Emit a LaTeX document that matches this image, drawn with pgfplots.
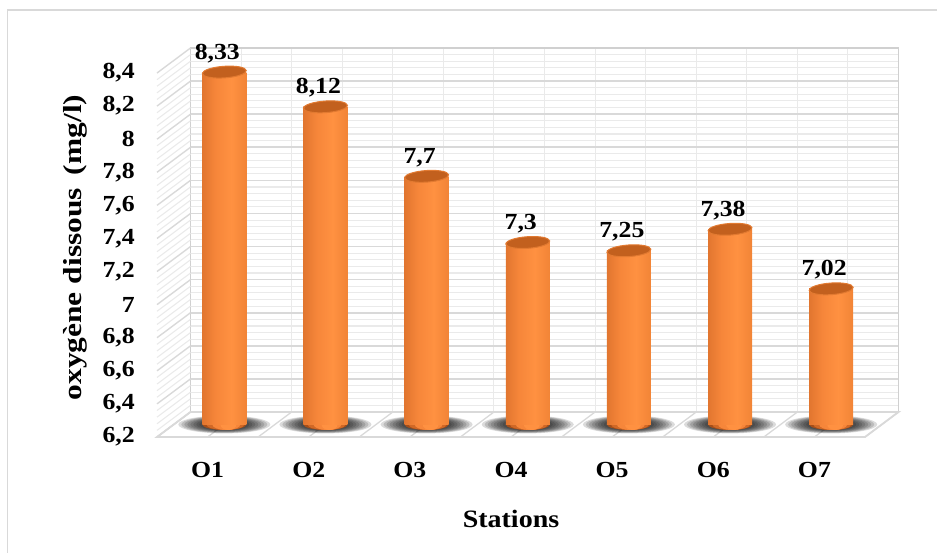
\documentclass[border=0pt]{standalone}
\usepackage{fontspec}
\setmainfont{Liberation Serif}[FakeStretch=1.12]
\newfontfamily\ylabfont{Liberation Serif}[FakeStretch=1.21]
\usepackage{pgfplots}
\usepackage{pgfplotstable}
\pgfplotsset{compat=1.18}

\definecolor{gridmajor}{HTML}{D9D9D9}
\definecolor{gridminor}{HTML}{EAEAEA}
\definecolor{walledge}{HTML}{D0D0D0}
\definecolor{framegray}{HTML}{D9D9D9}
\definecolor{topfill}{HTML}{C2601E}
\definecolor{toprim}{HTML}{E27A31}
\definecolor{cylA}{HTML}{A54E19}
\definecolor{cylB}{HTML}{D06826}
\definecolor{cylC}{HTML}{F6863A}
\definecolor{cylD}{HTML}{FF9141}
\definecolor{cylE}{HTML}{EC7F32}
\definecolor{cylF}{HTML}{B95C1D}

% cylinder body: dark edges, bright band a little right of centre
\pgfdeclarehorizontalshading{cylbody}{100bp}{%
  color(0bp)=(cylA); color(12bp)=(cylB); color(40bp)=(cylC);
  color(58bp)=(cylD); color(82bp)=(cylE); color(100bp)=(cylF)}

% tilted top of a cylinder
\pgfdeclareplotmark{cyltop}{%
  \pgfpathellipse{\pgfpointorigin}{\pgfpointpolar{4}{22bp}}{\pgfpointpolar{94}{5.8bp}}%
  \pgfsetfillcolor{topfill}\pgfsetstrokecolor{toprim}\pgfsetlinewidth{1bp}%
  \pgfusepath{fill,stroke}}
% flat ellipse, half width = mark size, fixed half height
\pgfdeclareplotmark{footell}{%
  \pgfpathellipse{\pgfpointorigin}{\pgfpoint{\pgfplotmarksize}{0pt}}{\pgfpoint{0pt}{5.5bp}}%
  \pgfusepath{fill}}
% flat ellipse for the floor shadow
\pgfdeclareplotmark{shadowell}{%
  \pgfpathellipse{\pgfpointorigin}{\pgfpoint{\pgfplotmarksize}{0pt}}{\pgfpoint{0pt}{0.15\pgfplotmarksize+2bp}}%
  \pgfusepath{fill}}

\pgfplotstableread{
st v
1 8.33
2 8.12
3 7.7
4 7.3
5 7.25
6 7.38
7 7.02
}\oxtable

\newcommand{\labelfont}{\fontsize{23bp}{26bp}\selectfont\bfseries}

\begin{document}
\begin{tikzpicture}
\path[use as bounding box] (0,0) rectangle (937bp,553bp);
\draw[framegray, line width=1.5bp] (7.5bp,-10bp) rectangle (950bp,543bp);

% back wall
\begin{axis}[at={(190.5bp,141bp)}, anchor=south west,
  scale only axis, width=708bp, height=364bp,
  xmin=0, xmax=7, ymin=6.2, ymax=8.4,
  xtick={0,0.5,...,7},
  ytick={6.2,6.4,6.6,6.8,7,7.2,7.4,7.6,7.8,8,8.2,8.4},
  minor y tick num=4,
  xticklabels={}, yticklabels={},
  major tick length=0pt, minor tick length=0pt,
  grid=both,
  major grid style={gridmajor, line width=1.6bp},
  minor grid style={gridminor, line width=1.1bp},
  x grid style={gridminor, line width=1.1bp},
  axis line style={walledge, line width=1.6bp}]
\end{axis}

% left side wall
\begin{axis}[at={(157bp,116bp)}, anchor=origin, disabledatascaling,
  x={(33.5bp,25bp)}, y={(0bp,165.45bp)},
  xmin=0, xmax=1, ymin=0, ymax=2.2,
  xtick=\empty,
  ytick={0,0.2,0.4,0.6,0.8,1,1.2,1.4,1.6,1.8,2,2.2},
  minor y tick num=4, yticklabels={},
  major tick length=0pt, minor tick length=0pt,
  ymajorgrids, yminorgrids,
  major grid style={gridmajor, line width=1.4bp},
  minor grid style={gridminor, line width=1.1bp},
  axis line style={draw=none}]
\end{axis}

% floor
\begin{axis}[at={(157bp,116bp)}, anchor=origin, disabledatascaling,
  x={(101.143bp,0bp)}, y={(33.5bp,25bp)},
  xmin=0, xmax=7, ymin=0, ymax=1,
  xtick={0,0.5,...,7}, ytick=\empty, xticklabels={},
  major tick length=0pt,
  xmajorgrids,
  major grid style={gridmajor, line width=1.3bp},
  axis line style={gridmajor, line width=1.8bp}]
\end{axis}

% cylinders, standing at mid depth
\begin{axis}[at={(173.75bp,128.5bp)}, anchor=south west,
  scale only axis, width=708bp, height=364bp,
  xmin=0, xmax=7, ymin=0, ymax=2.2,
  hide axis, clip=false, clip mode=individual,
  /pgf/number format/use comma,
  /pgf/number format/fixed,
  /pgf/number format/precision=2,
  /pgf/number format/assume math mode=true]
% soft shadow on the floor, built from stacked translucent ellipses
\pgfplotsinvokeforeach{46,43,40,37,34,31,28,25}{
\addplot[only marks, mark=shadowell, mark size=#1bp,
  mark options={fill=black, fill opacity=0.14, draw=none}]
  table[x expr=\thisrow{st}-0.5, y expr=0]{\oxtable};
}
% rounded foot of each cylinder, darker towards the sides
\addplot[only marks, mark=footell, mark size=22bp, mark options={fill=cylA}]
  table[x expr=\thisrow{st}-0.5, y expr=0]{\oxtable};
\addplot[only marks, mark=footell, mark size=19bp, mark options={fill=cylB}]
  table[x expr=\thisrow{st}-0.5+0.01, y expr=0]{\oxtable};
\addplot[only marks, mark=footell, mark size=14bp, mark options={fill=cylC}]
  table[x expr=\thisrow{st}-0.5+0.02, y expr=0]{\oxtable};
\addplot[only marks, mark=footell, mark size=8bp, mark options={fill=cylD}]
  table[x expr=\thisrow{st}-0.5+0.04, y expr=0]{\oxtable};
% cylinder bodies, one plot per station so each gets its own shading
\pgfplotsinvokeforeach{0,...,6}{
\addplot[ybar, bar width=44bp, bar shift=0pt, draw=none, shade, shading=cylbody,
  restrict x to domain=#1.4:#1.6]
  table[x expr=\thisrow{st}-0.5, y expr=\thisrow{v}-6.2]{\oxtable};
}
% tops and value labels
\addplot[only marks, mark=cyltop, point meta=explicit,
  nodes near coords,
  nodes near coords style={font=\labelfont, text=black, anchor=south,
    inner sep=0pt, xshift=-7bp, yshift=9bp}]
  table[x expr=\thisrow{st}-0.5, y expr=\thisrow{v}-6.2, meta=v]{\oxtable};
\end{axis}

% front plane: tick labels and axis titles
\begin{axis}[at={(157bp,116bp)}, anchor=south west,
  scale only axis, width=708bp, height=364bp,
  xmin=0, xmax=7, ymin=6.2, ymax=8.4,
  axis line style={draw=none}, major tick length=0pt,
  xtick={0.5,1.5,2.5,3.5,4.5,5.5,6.5},
  xticklabels={O1,O2,O3,O4,O5,O6,O7},
  ytick={6.2,6.4,6.6,6.8,7,7.2,7.4,7.6,7.8,8,8.2,8.4},
  /pgf/number format/use comma,
  /pgf/number format/fixed,
  /pgf/number format/precision=1,
  /pgf/number format/assume math mode=true,
  tick label style={font=\labelfont},
  yticklabel style={anchor=east, inner sep=0pt, xshift=-22bp},
  xticklabel style={anchor=north, inner sep=0pt, yshift=-25bp},
  xlabel={Stations},
  xlabel style={at={(axis description cs:0.5,0)}, anchor=north,
    inner sep=0pt, yshift=-73bp,
    font=\fontsize{25bp}{28bp}\selectfont\bfseries},
  ylabel={oxygène dissous\enspace(mg/l)},
  ylabel style={at={(axis description cs:-0.0989,0.5206)}, anchor=south,
    inner sep=0pt, font=\ylabfont\fontsize{26bp}{28bp}\selectfont\bfseries}]
\end{axis}
\end{tikzpicture}
\end{document}
